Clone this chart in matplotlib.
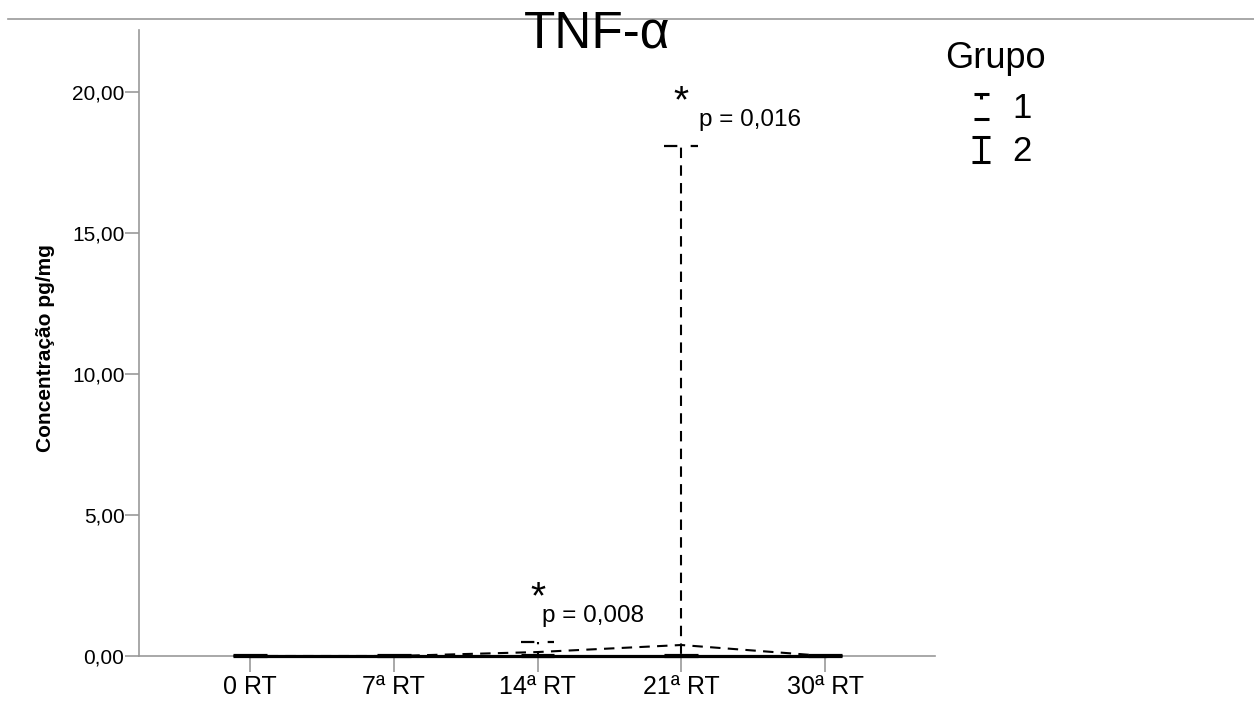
import matplotlib

matplotlib.use("Agg")
import matplotlib.pyplot as plt
import numpy as np
from matplotlib.lines import Line2D
from matplotlib.path import Path

plt.rcParams["font.family"] = ["Liberation Sans", "DejaVu Sans"]

# data
dias = ["0 RT", "7ª RT", "14ª RT", "21ª RT", "30ª RT"]
grupo1_media = [0.0, 0.0, 0.14, 0.39, 0.0]
grupo1_erro = [0.0, 0.0, 0.36, 17.7, 0.0]
grupo2_media = [0.01, 0.01, 0.01, 0.01, 0.01]
grupo2_erro = [0.01, 0.01, 0.01, 0.01, 0.01]
p_idx = [2, 3]
p_txt = ["p = 0,008", "p = 0,016"]
y_ticks = [0, 5, 10, 15, 20]

CAP = 0.118  # half cap width in x units

fig = plt.figure(figsize=(12.54, 7.06), dpi=100, facecolor="white")
ax = fig.add_axes([139 / 1254, 50 / 706, 796 / 1254, 626 / 706])

x = np.arange(len(dias))
g1m = np.array(grupo1_media)
g1e = np.array(grupo1_erro)
g2m = np.array(grupo2_media)
g2e = np.array(grupo2_erro)

# grupo 2: solid, sits on the axis line so don't clip it
solid = dict(color="black", lw=2.3, zorder=5, clip_on=False)
ax.plot(x, g2m, **solid)
ax.vlines(x, g2m - g2e, g2m + g2e, **solid)
ax.hlines(g2m + g2e, x - CAP, x + CAP, **solid)
ax.hlines(g2m - g2e, x - CAP, x + CAP, **solid)

# grupo 1: dashed
ax.plot(x, g1m, color="black", lw=1.5, ls=(0, (5, 3.5)), zorder=6)
has_err = g1e > 0
ax.vlines(x[has_err], g1m[has_err] - g1e[has_err], g1m[has_err] + g1e[has_err],
          color="black", lw=1.5, ls=(0, (5, 3.5)), zorder=6)
ax.hlines(g1m[has_err] + g1e[has_err], x[has_err] - CAP, x[has_err] + CAP,
          color="black", lw=1.6, ls=(0, (6, 6)), zorder=6)

# significance marks above the upper end of the error bar
for i, txt, dx in zip(p_idx, p_txt, [0.03, 0.12]):
    top = g1m[i] + g1e[i]
    ax.text(x[i], top + 1.2, "*", ha="center", va="baseline", fontsize=28)
    ax.text(x[i] + dx, top + 0.7, txt, ha="left", va="baseline", fontsize=17.5)

ax.set_xlim(-0.772, 4.765)
ax.set_ylim(0, 22.2)
ax.set_xticks(x)
ax.set_xticklabels(dias, fontsize=18)
ax.set_yticks(y_ticks)
ax.set_yticklabels([f"{v:.2f}".replace(".", ",") for v in y_ticks], fontsize=15)

for side in ("top", "right"):
    ax.spines[side].set_visible(False)
for side in ("left", "bottom"):
    ax.spines[side].set_color("#999999")
    ax.spines[side].set_linewidth(1.2)
ax.tick_params(axis="x", length=11.5, width=1.2, color="#999999", pad=2)
ax.tick_params(axis="y", length=10, width=1.2, color="#999999", pad=0.5)

ax.set_ylabel("Concentração pg/mg", fontsize=15, fontweight="bold")
ax.yaxis.set_label_coords(-0.106, 0.492)

# title and top rule
fig.add_artist(Line2D([8 / 1254, 1], [1 - 19 / 706] * 2, color="#999999", lw=1.2))
fig.text(597 / 1254, 1 - 48 / 706, "TNF-α", ha="center", va="baseline", fontsize=37)

# legend with error-bar glyphs
I = Path([(-0.7, 1), (0.7, 1), (0, 1), (0, -1), (-0.7, -1), (0.7, -1)],
         [Path.MOVETO, Path.LINETO, Path.MOVETO, Path.LINETO, Path.MOVETO, Path.LINETO])
I_dash = Path([(-0.6, 1), (0.6, 1), (0, 1), (0, 0.55), (-0.6, -1), (0.6, -1)],
              [Path.MOVETO, Path.LINETO, Path.MOVETO, Path.LINETO, Path.MOVETO, Path.LINETO])
handles = [
    Line2D([], [], marker=I_dash, markersize=18, ls="none", color="black", mew=2.2),
    Line2D([], [], marker=I, markersize=18, ls="none", color="black", mew=2.2),
]
fig.text(945 / 1254, 1 - 68 / 706, "Grupo", ha="left", va="baseline", fontsize=26)
ax.legend(handles, ["1", "2"], frameon=False, fontsize=25, loc="upper left",
          bbox_to_anchor=(964 / 1254, 1 - 92 / 706), bbox_transform=fig.transFigure,
          handlelength=1.0, handletextpad=0.4, labelspacing=0.3, borderpad=0.0,
          borderaxespad=0.0)

fig.savefig("out.png", dpi=100, facecolor="white")
